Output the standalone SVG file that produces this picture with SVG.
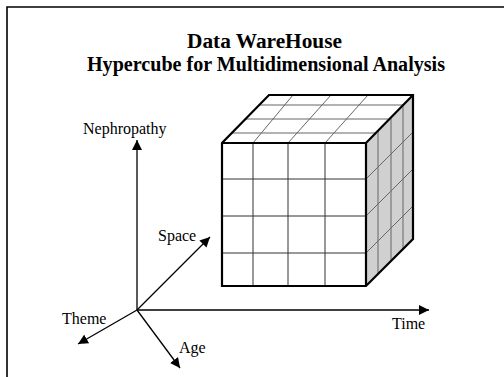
<svg xmlns="http://www.w3.org/2000/svg" width="504" height="377" viewBox="0 0 504 377">
  <defs>
    <marker id="arrow" viewBox="0 0 10 10" refX="10" refY="5" markerWidth="10" markerHeight="10" markerUnits="userSpaceOnUse" orient="auto">
      <path d="M0,0 L10,5 L0,10 Z" fill="#000"/>
    </marker>
    <style>
      .title { font-family: "Liberation Serif", "Times New Roman", serif; font-weight: bold; font-size: 20px; fill: #000; text-anchor: middle; }
      .label { font-family: "Liberation Serif", "Times New Roman", serif; font-size: 16px; fill: #000; }
      .axis { stroke: #000; stroke-width: 1.3; fill: none; marker-end: url(#arrow); }
      .edge { stroke: #000; stroke-width: 2.2; fill: none; stroke-linejoin: miter; }
      .grid { stroke: #333; stroke-width: 1; fill: none; }
      .grid-light { stroke: #666; stroke-width: 1; fill: none; }
    </style>
  </defs>
  <rect width="504" height="377" fill="#fff"/>

  <!-- frame -->
  <path d="M7,377 L7,7 L504,7" fill="none" stroke="#000" stroke-width="1.6"/>

  <!-- title -->
  <g id="title">
    <text class="title" x="264.5" y="48" textLength="155" lengthAdjust="spacingAndGlyphs">Data WareHouse</text>
    <text class="title" x="266" y="71" textLength="358" lengthAdjust="spacingAndGlyphs">Hypercube for Multidimensional Analysis</text>
  </g>

  <!-- axes -->
  <g id="connectors">
    <line class="axis" x1="137" y1="310" x2="137" y2="140"/>
    <line class="axis" x1="137" y1="310" x2="429" y2="310"/>
    <line class="axis" x1="137" y1="310" x2="210" y2="237"/>
    <line class="axis" x1="137" y1="310" x2="78" y2="344"/>
    <line class="axis" x1="137" y1="310" x2="180" y2="368"/>
  </g>

  <g id="axis-nephropathy"><text class="label" x="83" y="134">Nephropathy</text></g>
  <g id="axis-time"><text class="label" x="392" y="329">Time</text></g>
  <g id="axis-space"><text class="label" x="158" y="241">Space</text></g>
  <g id="axis-theme"><text class="label" x="62" y="324">Theme</text></g>
  <g id="axis-age"><text class="label" x="179" y="353">Age</text></g>

  <!-- hypercube -->
  <g id="cube">
    <!-- right face -->
    <polygon points="366,143 413,95 413,239 366,286" fill="#d0d0d0"/>
    <g class="grid-light">
      <line x1="378" y1="131" x2="378" y2="274"/>
      <line x1="391" y1="118" x2="391" y2="261"/>
      <line x1="403" y1="105" x2="403" y2="249"/>
      <line x1="366" y1="179" x2="413" y2="132"/>
      <line x1="366" y1="216" x2="413" y2="169"/>
      <line x1="366" y1="253" x2="413" y2="206"/>
    </g>
    <!-- top face -->
    <polygon points="222,143 269,95 413,95 366,143" fill="#fff"/>
    <g class="grid-light">
      <line x1="232" y1="133" x2="376" y2="133"/>
      <line x1="245" y1="119" x2="389" y2="119"/>
      <line x1="259" y1="105" x2="403" y2="105"/>
      <line x1="253" y1="143" x2="293" y2="95"/>
      <line x1="288" y1="143" x2="331" y2="95"/>
      <line x1="325" y1="143" x2="368" y2="95"/>
    </g>
    <!-- front face -->
    <rect x="222" y="143" width="144" height="143" fill="#fff"/>
    <g class="grid">
      <line x1="253" y1="143" x2="253" y2="286"/>
      <line x1="288" y1="143" x2="288" y2="286"/>
      <line x1="325" y1="143" x2="325" y2="286"/>
      <line x1="222" y1="179" x2="366" y2="179"/>
      <line x1="222" y1="216" x2="366" y2="216"/>
      <line x1="222" y1="253" x2="366" y2="253"/>
    </g>
    <!-- outline -->
    <path class="edge" d="M222,143 L222,286 L366,286 L413,239 L413,95 L269,95 Z M222,143 L366,143 L413,95 M366,143 L366,286"/>
  </g>
</svg>
